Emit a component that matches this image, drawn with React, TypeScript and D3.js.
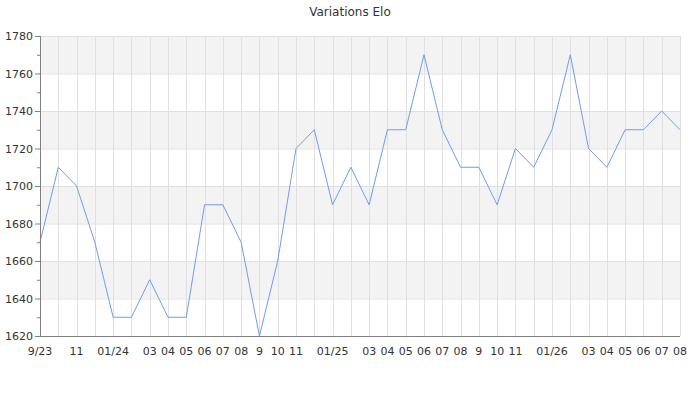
import React from "react";
import * as d3 from "d3";

const months: string[] = [
  "2023-09","2023-10","2023-11","2023-12","2024-01","2024-02","2024-03","2024-04","2024-05","2024-06","2024-07","2024-08",
  "2024-09","2024-10","2024-11","2024-12","2025-01","2025-02","2025-03","2025-04","2025-05","2025-06","2025-07","2025-08",
  "2025-09","2025-10","2025-11","2025-12","2026-01","2026-02","2026-03","2026-04","2026-05","2026-06","2026-07","2026-08",
];
const elo: number[] = [
  1670, 1710, 1700, 1670, 1630, 1630, 1650, 1630, 1630, 1690, 1690, 1670,
  1620, 1660, 1720, 1730, 1690, 1710, 1690, 1730, 1730, 1770, 1730, 1710,
  1710, 1690, 1720, 1710, 1730, 1770, 1720, 1710, 1730, 1730, 1740, 1730,
];
const tickLabels: string[] = [
  "9/23", "", "11", "", "01/24", "", "03", "04", "05", "06", "07", "08",
  "9", "10", "11", "", "01/25", "", "03", "04", "05", "06", "07", "08",
  "9", "10", "11", "", "01/26", "", "03", "04", "05", "06", "07", "08",
];
const yTicks: number[] = [1620, 1640, 1660, 1680, 1700, 1720, 1740, 1760, 1780];
const yMinor: number[] = [1630, 1650, 1670, 1690, 1710, 1730, 1750, 1770];
const title = "Variations Elo";

export default function App() {
  const W = 700, H = 400;
  const left = 40, right = 680, top = 36, bottom = 336;
  const x = d3.scalePoint<string>().domain(months).range([left, right]);
  const y = d3.scaleLinear().domain([1620, 1780]).range([bottom, top]);
  const line = d3.line<number>().x((_, i) => x(months[i])!).y((d) => y(d));
  const font = "DejaVu Sans, sans-serif";
  const bands = yTicks.slice(0, -1).filter((_, i) => i % 2 === 1);
  return (
    <svg width={W} height={H} style={{ position: "absolute", left: 0, top: 0 }}>
      <rect width={W} height={H} fill="#fff" />
      {bands.map((v) => (
        <rect key={v} x={left} y={y(v + 20)} width={right - left} height={y(v) - y(v + 20)} fill="#f3f3f3" />
      ))}
      {yTicks.map((v) => (
        <line key={"gy" + v} x1={left} x2={right} y1={y(v) + 0.5} y2={y(v) + 0.5} stroke="#e0e0e0" />
      ))}
      {months.map((m) => (
        <line key={"gx" + m} x1={Math.round(x(m)!) + 0.5} x2={Math.round(x(m)!) + 0.5} y1={top} y2={bottom} stroke="#e0e0e0" />
      ))}
      <path d={line(elo)!} fill="none" stroke="#6f9cf0" strokeWidth={1} />
      <line x1={left + 0.5} x2={left + 0.5} y1={top} y2={bottom} stroke="#808080" />
      <line x1={left} x2={right} y1={bottom + 0.5} y2={bottom + 0.5} stroke="#808080" />
      {yTicks.map((v) => (
        <g key={"ty" + v}>
          <line x1={left - 5} x2={left} y1={y(v) + 0.5} y2={y(v) + 0.5} stroke="#808080" />
          <text x={left - 7} y={y(v) + 4} textAnchor="end" fontFamily={font} fontSize={11} fill="#333">{v}</text>
        </g>
      ))}
      {yMinor.map((v) => (
        <line key={"tm" + v} x1={left - 3} x2={left} y1={y(v) + 0.5} y2={y(v) + 0.5} stroke="#808080" />
      ))}
      {months.map((m, i) =>
        tickLabels[i] ? (
          <text key={"tx" + m} x={x(m)!} y={bottom + 19} textAnchor="middle" fontFamily={font} fontSize={11} fill="#333">
            {tickLabels[i]}
          </text>
        ) : null
      )}
      <text x={350} y={16} textAnchor="middle" fontFamily={font} fontSize={12} fill="#333">{title}</text>
    </svg>
  );
}
